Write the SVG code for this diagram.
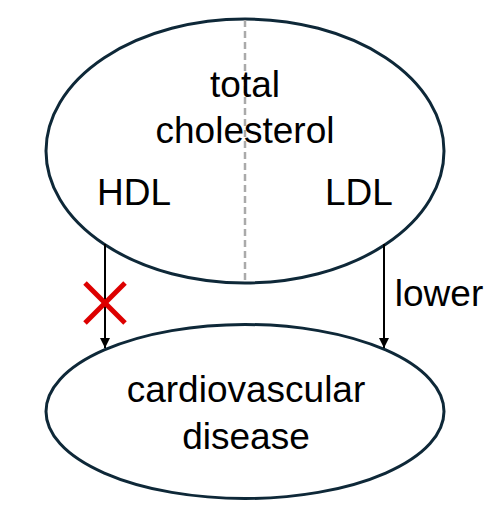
<svg xmlns="http://www.w3.org/2000/svg" width="498" height="525" viewBox="0 0 498 525">
<style>
.node{fill:#fff;stroke:#0e2838;stroke-width:3}
.t{font-family:"Liberation Sans",Arial,sans-serif;font-size:37px;fill:#000;text-anchor:middle}
.arr{stroke:#000;stroke-width:2;fill:none;marker-end:url(#ah)}
</style>
<defs>
<marker id="ah" markerWidth="12" markerHeight="12" refX="10" refY="5" orient="auto" markerUnits="userSpaceOnUse">
<path d="M0,0 L10,5 L0,10 Z" fill="#000"/>
</marker>
</defs>
<g id="total-cholesterol">
<ellipse class="node" cx="245" cy="151" rx="199" ry="132"/>
<line x1="245" y1="20" x2="245" y2="282" stroke="#aaaaaa" stroke-width="2.5" stroke-dasharray="7,4"/>
<text class="t" x="245" y="97">total</text>
<text class="t" x="245" y="143">cholesterol</text>
<text class="t" x="134" y="205">HDL</text>
<text class="t" x="359" y="205">LDL</text>
</g>
<g id="cvd">
<ellipse class="node" cx="245" cy="411.5" rx="199" ry="87"/>
<text class="t" x="246" y="402">cardiovascular</text>
<text class="t" x="246" y="449">disease</text>
</g>
<g id="connectors">
<line class="arr" x1="105" y1="244" x2="105" y2="348"/>
<line class="arr" x1="384" y1="244" x2="384" y2="348"/>
<text class="t" x="439" y="306">lower</text>
<g stroke="#dd0000" stroke-width="5">
<line x1="85" y1="283" x2="125" y2="323"/>
<line x1="125" y1="283" x2="85" y2="323"/>
</g>
</g>
</svg>
